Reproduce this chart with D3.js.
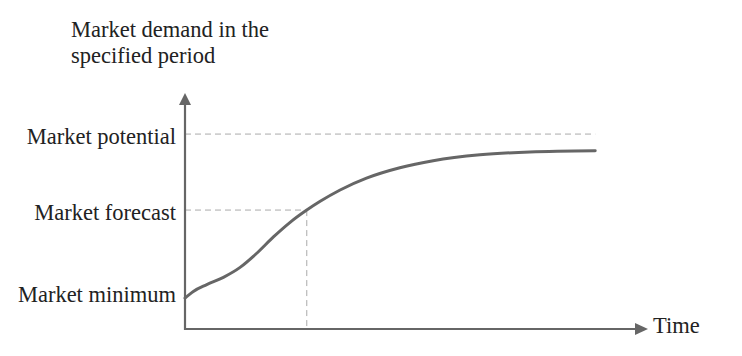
<!DOCTYPE html>
<html><head><meta charset="utf-8">
<script src="https://cdn.jsdelivr.net/npm/d3@7"></script>
<style>body{margin:0;background:#fff}svg{display:block}text{font-family:"Liberation Serif","DejaVu Serif",serif;fill:#222}</style>
</head><body><svg id="c" width="742" height="356"></svg>
<script>
// Data (time 0..100, demand 0..100)
const timeValues   = [0, 1.8, 4.7, 8.3, 11.9, 15.5, 19.1, 22.7, 26.3, 29.2, 33.5, 39.2, 46.4, 53.6, 63.7, 74.5, 88.6];
const demandValues = [13.1, 15.9, 18.8, 21.9, 26.1, 32.1, 39.0, 45.2, 50.4, 54.1, 58.9, 63.9, 68.3, 71.3, 73.8, 75.0, 75.5];
const levelLabels  = ["Market potential", "Market forecast", "Market minimum"];
const levelValues  = [82.6, 50.4, 13.1];
const forecastTime = 26.3;
const yTitle = ["Market demand in the", "specified period"];
const xTitle = "Time";

const svg = d3.select("#c");
const x = d3.scaleLinear().domain([0, 100]).range([185, 648]);
const y = d3.scaleLinear().domain([0, 100]).range([329, 93]);
const gray = "#666";
const fs = 22.5;

// dashed guides
const dash = (x1, y1, x2, y2) => svg.append("line").attr("x1", x1).attr("y1", y1).attr("x2", x2).attr("y2", y2)
  .attr("stroke", "#aaa").attr("stroke-width", 1).attr("stroke-dasharray", "6,4");
dash(x(0), y(levelValues[0]), x(88.6), y(levelValues[0]));
dash(x(0), y(levelValues[1]), x(forecastTime), y(levelValues[1]));
dash(x(forecastTime), y(levelValues[1]), x(forecastTime), y(0));

// axes
svg.append("line").attr("x1", x(0)).attr("x2", x(0)).attr("y1", y(0) + 1).attr("y2", y(100) + 8)
  .attr("stroke", gray).attr("stroke-width", 2.2);
svg.append("path").attr("d", `M${x(0)-6},${y(100)+12}L${x(0)},${y(100)}L${x(0)+6},${y(100)+12}Z`).attr("fill", gray);
svg.append("line").attr("x1", x(0) - 1).attr("x2", x(100) - 10).attr("y1", y(0)).attr("y2", y(0))
  .attr("stroke", gray).attr("stroke-width", 2.2);
svg.append("path").attr("d", `M${x(100)-13},${y(0)-6}L${x(100)},${y(0)}L${x(100)-13},${y(0)+6}Z`).attr("fill", gray);

// curve
const pts = timeValues.map((t, i) => [t, demandValues[i]]);
svg.append("path").datum(pts)
  .attr("d", d3.line().x(d => x(d[0])).y(d => y(d[1])).curve(d3.curveMonotoneX))
  .attr("fill", "none").attr("stroke", gray).attr("stroke-width", 3).attr("stroke-linecap", "round");

// level labels
svg.selectAll("text.lvl").data(levelLabels).enter().append("text").attr("class", "lvl")
  .attr("x", 176).attr("y", (d, i) => y(levelValues[i]) + (i === 2 ? 4 : 10))
  .attr("text-anchor", "end").attr("font-size", fs).text(d => d);

// titles
svg.selectAll("text.yt").data(yTitle).enter().append("text").attr("class", "yt")
  .attr("x", 71).attr("y", (d, i) => 37 + i * 26).attr("font-size", fs).text(d => d);
svg.append("text").attr("x", 653).attr("y", y(0) + 4).attr("font-size", fs).text(xTitle);
</script></body></html>
